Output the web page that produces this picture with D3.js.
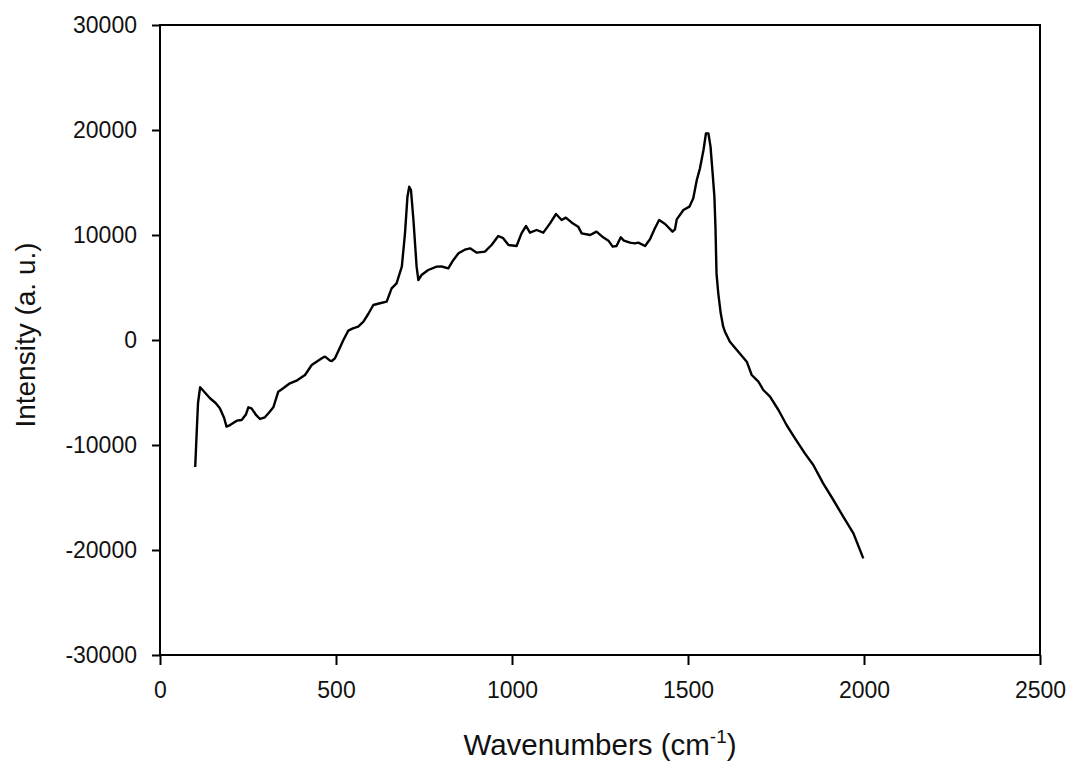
<!DOCTYPE html>
<html>
<head>
<meta charset="utf-8">
<script src="https://cdn.jsdelivr.net/npm/d3@7"></script>
<style>
  html, body { margin: 0; padding: 0; background: #fff; }
  svg { display: block; }
  text { font-family: "Liberation Sans", Arial, sans-serif; fill: #111; }
</style>
</head>
<body>
<svg id="chart" width="1071" height="765"></svg>
<script>
// Raman spectrum
const wavenumbers = [100, 104, 108, 114, 125, 142, 158, 170, 182, 189, 199, 218, 232, 244, 251, 260, 272, 284, 298, 310, 322, 336, 350, 369, 388, 398, 412, 431, 448, 464, 469, 483, 488, 497, 510, 521, 535, 548, 563, 578, 592, 606, 625, 644, 658, 672, 687, 696, 703, 708, 713, 720, 729, 734, 743, 762, 786, 800, 819, 833, 848, 866, 881, 900, 923, 942, 961, 975, 990, 1013, 1027, 1040, 1051, 1070, 1089, 1108, 1125, 1141, 1153, 1170, 1188, 1198, 1222, 1240, 1259, 1274, 1286, 1297, 1309, 1318, 1335, 1349, 1359, 1378, 1392, 1406, 1418, 1435, 1456, 1463, 1468, 1487, 1504, 1515, 1525, 1534, 1544, 1551, 1558, 1564, 1570, 1575, 1578, 1581, 1586, 1593, 1600, 1605, 1619, 1643, 1667, 1681, 1700, 1714, 1733, 1757, 1780, 1804, 1832, 1856, 1884, 1913, 1941, 1970, 1998];
const intensity = [-12100, -9000, -6000, -4500, -4900, -5550, -6000, -6500, -7400, -8250, -8100, -7680, -7620, -7100, -6410, -6510, -7100, -7520, -7365, -6900, -6410, -4920, -4600, -4125, -3873, -3650, -3333, -2380, -2000, -1650, -1587, -1968, -2000, -1746, -800, 0, 890, 1100, 1270, 1746, 2500, 3333, 3500, 3650, 4920, 5396, 6984, 10159, 13650, 14600, 14286, 11430, 6984, 5714, 6190, 6667, 6984, 7000, 6825, 7600, 8254, 8600, 8730, 8317, 8413, 9048, 9905, 9700, 9048, 8952, 10159, 10857, 10222, 10476, 10222, 11111, 12000, 11430, 11650, 11175, 10794, 10159, 10000, 10317, 9778, 9460, 8889, 8952, 9778, 9460, 9270, 9206, 9270, 8952, 9587, 10635, 11430, 11048, 10317, 10540, 11492, 12381, 12698, 13492, 15238, 16349, 18095, 19683, 19683, 18413, 15873, 13650, 10794, 6349, 4444, 2540, 1270, 794, -159, -1111, -2063, -3333, -3968, -4762, -5397, -6667, -8095, -9365, -10794, -11905, -13650, -15238, -16825, -18413, -20794];
const xTicks = [0, 500, 1000, 1500, 2000, 2500];
const yTicks = [-30000, -20000, -10000, 0, 10000, 20000, 30000];
const xLabel = "Wavenumbers (cm";
const xLabelSup = "-1";
const yLabel = "Intensity (a. u.)";

const svg = d3.select("#chart");
const mLeft = 160, mRight = 1040, mTop = 25, mBottom = 655;

const x = d3.scaleLinear().domain([0, 2500]).range([mLeft, mRight]);
const y = d3.scaleLinear().domain([-30000, 30000]).range([mBottom, mTop]);
const fmt = d => String(d);

// frame
svg.append("rect")
  .attr("x", mLeft).attr("y", mTop)
  .attr("width", mRight - mLeft).attr("height", mBottom - mTop)
  .attr("fill", "none").attr("stroke", "#000").attr("stroke-width", 2);

// x axis
const gx = svg.append("g").attr("transform", `translate(0,${mBottom})`)
  .call(d3.axisBottom(x).tickValues(xTicks).tickSize(10).tickPadding(17).tickFormat(fmt));
gx.select(".domain").remove();
gx.selectAll(".tick line").attr("stroke", "#000").attr("stroke-width", 2);
gx.selectAll(".tick text").attr("font-size", 23).attr("font-family", "Liberation Sans, Arial, sans-serif").attr("fill", "#111");

// y axis
const gy = svg.append("g").attr("transform", `translate(${mLeft},0)`)
  .call(d3.axisLeft(y).tickValues(yTicks).tickSize(8).tickPadding(15).tickFormat(fmt));
gy.select(".domain").remove();
gy.selectAll(".tick line").attr("stroke", "#000").attr("stroke-width", 2);
gy.selectAll(".tick text").attr("font-size", 23).attr("font-family", "Liberation Sans, Arial, sans-serif").attr("fill", "#111");

// line
const data = wavenumbers.map((w, i) => [w, intensity[i]]);
svg.append("path")
  .datum(data)
  .attr("fill", "none")
  .attr("stroke", "#000")
  .attr("stroke-width", 2.4)
  .attr("stroke-linejoin", "round")
  .attr("d", d3.line().x(d => x(d[0])).y(d => y(d[1])));

// x title
const xt = svg.append("text")
  .attr("x", (mLeft + mRight) / 2).attr("y", 755)
  .attr("text-anchor", "middle").attr("font-size", 29.5);
xt.append("tspan").text(xLabel);
xt.append("tspan").attr("font-size", 19).attr("dy", -12).text(xLabelSup);
xt.append("tspan").attr("dy", 12).text(")");

// y title
svg.append("text")
  .attr("transform", `translate(35,335) rotate(-90)`)
  .attr("text-anchor", "middle").attr("font-size", 28)
  .text(yLabel);
</script>
</body>
</html>
